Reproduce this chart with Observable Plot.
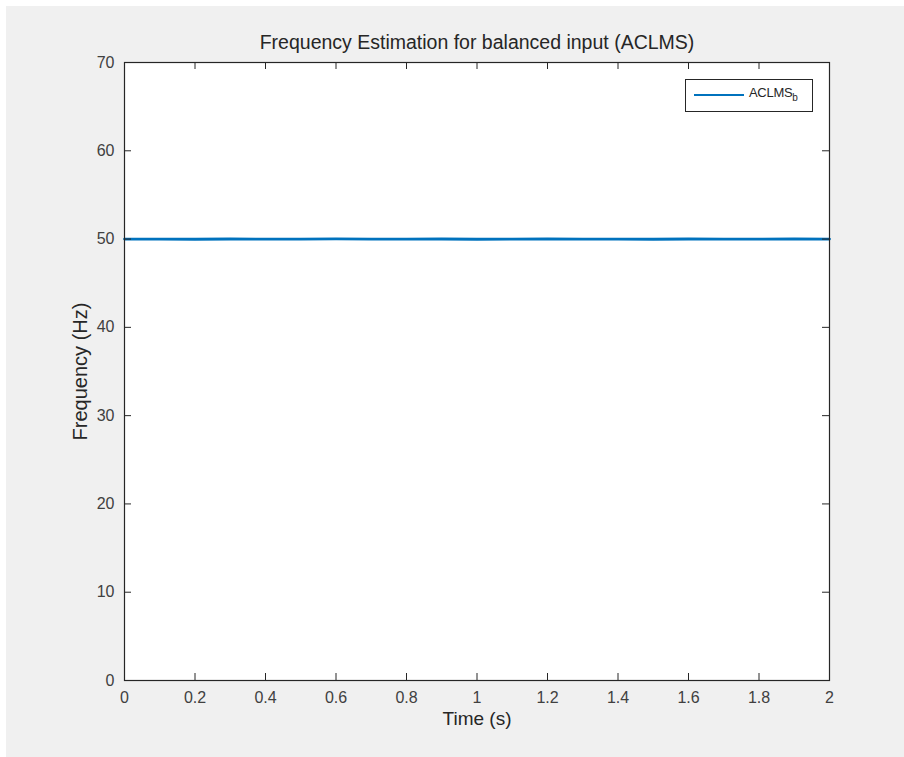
<!DOCTYPE html>
<html>
<head>
<meta charset="utf-8">
<script src="https://cdn.jsdelivr.net/npm/d3@7"></script>
<script src="https://cdn.jsdelivr.net/npm/@observablehq/plot@0.6"></script>
<style>
  html, body { margin: 0; padding: 0; background: #ffffff; }
  #wrap { position: relative; width: 904px; height: 757px; overflow: hidden; }
  #wrap svg { position: absolute; left: 6px; top: 6px; background: #f0f0f0; }
  #legend { position: absolute; left: 685px; top: 79px; width: 128px; height: 33px; box-sizing: border-box;
    border: 1px solid #262626; background: #fff; font-family: "Liberation Sans", Arial, sans-serif; font-size: 13px; color: #262626; }
  #legend .ln { position: absolute; left: 8px; top: 14px; width: 50px; height: 2px; background: #0072BD; }
  #legend .tx { position: absolute; left: 63px; top: 5px; white-space: nowrap; letter-spacing: -0.3px; }
  #legend sub { font-size: 10px; vertical-align: -4px; line-height: 0; }
</style>
</head>
<body>
<div id="wrap"><div id="legend"><div class="ln"></div><div class="tx">ACLMS<sub>b</sub></div></div></div>
<script>
const titleText = "Frequency Estimation for balanced input (ACLMS)";
const xLabel = "Time (s)";
const yLabel = "Frequency (Hz)";
const xTicks = [0, 0.2, 0.4, 0.6, 0.8, 1, 1.2, 1.4, 1.6, 1.8, 2];
const yTicks = [0, 10, 20, 30, 40, 50, 60, 70];
const time = [0, 0.1, 0.2, 0.3, 0.4, 0.5, 0.6, 0.7, 0.8, 0.9, 1.0, 1.1, 1.2, 1.3, 1.4, 1.5, 1.6, 1.7, 1.8, 1.9, 2.0];
const freq = [50.0, 50.0, 49.98, 50.01, 49.99, 50.0, 50.02, 49.99, 50.0, 50.01, 49.98, 50.0, 50.01, 49.99, 50.0, 49.98, 50.01, 50.0, 49.99, 50.01, 50.0];

const data = time.map((t, i) => ({t, f: freq[i]}));
const W = 898, Hh = 751;
const mL = 118, mR = 75, mT = 56, mB = 77;
const FW = W - mL - mR, FH = Hh - mT - mB;
const axisColor = "#262626";
const font = "Liberation Sans, Arial, sans-serif";

const chart = Plot.plot({
  width: W, height: Hh,
  marginLeft: mL, marginRight: mR, marginTop: mT, marginBottom: mB,
  style: {background: "#f0f0f0", fontFamily: font, fontSize: "16px", color: "#404040"},
  x: {domain: [0, 2]},
  y: {domain: [0, 70]},
  marks: [
    Plot.frame({fill: "white", stroke: "none"}),
    Plot.lineY(data, {x: "t", y: "f", stroke: "#0072BD", strokeWidth: 2.8}),
    Plot.ruleX(xTicks, {insetTop: FH - 7, stroke: axisColor}),
    Plot.ruleX(xTicks, {insetBottom: FH - 7, stroke: axisColor}),
    Plot.ruleY(yTicks, {insetRight: FW - 7, stroke: axisColor}),
    Plot.ruleY(yTicks, {insetLeft: FW - 7, stroke: axisColor}),
    Plot.frame({stroke: axisColor, strokeWidth: 1.2}),
    Plot.axisX(xTicks, {tickSize: 0, tickPadding: 11, label: null, fill: "#404040", fontSize: 16, tickFormat: d => String(d)}),
    Plot.axisY(yTicks, {tickSize: 0, tickPadding: 10, label: null, fill: "#404040", fontSize: 16, tickFormat: d => String(d)}),
    Plot.text([titleText], {frameAnchor: "top", lineAnchor: "middle", textAnchor: "middle", dy: -20, fontSize: 19.5, fill: "#262626"}),
    Plot.text([xLabel], {frameAnchor: "bottom", lineAnchor: "middle", textAnchor: "middle", dy: 38, fontSize: 19, fill: "#262626"}),
    Plot.text([yLabel], {frameAnchor: "left", lineAnchor: "middle", textAnchor: "middle", dx: -44, rotate: -90, fontSize: 20, fill: "#262626"})
  ]
});
document.getElementById("wrap").insertBefore(chart, document.getElementById("legend"));
</script>
</body>
</html>
